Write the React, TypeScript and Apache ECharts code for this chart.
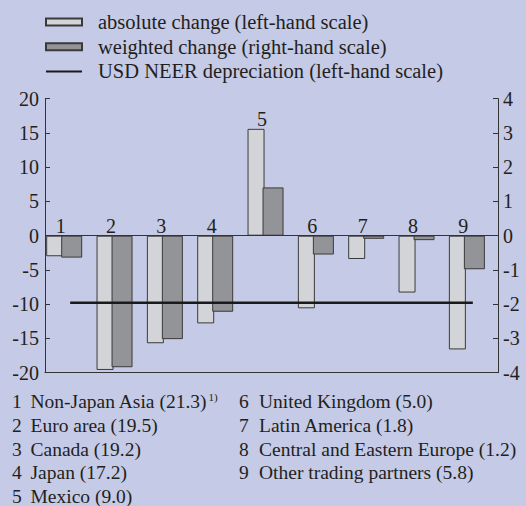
import React, { useEffect, useRef } from "react";
import * as echarts from "echarts";

const categories = ["1", "2", "3", "4", "5", "6", "7", "8", "9"];
const absoluteChange = [-3.0, -19.6, -15.7, -12.8, 15.6, -10.6, -3.4, -8.3, -16.6];
const weightedChange = [-0.64, -3.84, -3.02, -2.22, 1.41, -0.55, -0.09, -0.13, -0.98];
const neerDepreciation = [-9.8, -9.8, -9.8, -9.8, -9.8, -9.8, -9.8, -9.8, -9.8];
const leftAxis = { min: -20, max: 20, interval: 5 };
const rightAxis = { min: -4, max: 4, interval: 1 };
const seriesNames = [
  "absolute change (left-hand scale)",
  "weighted change (right-hand scale)",
  "USD NEER depreciation (left-hand scale)",
];
const partnerNumbers = ["1", "2", "3", "4", "5", "6", "7", "8", "9"];
const partnerNames = [
  "Non-Japan Asia (21.3)",
  "Euro area (19.5)",
  "Canada (19.2)",
  "Japan (17.2)",
  "Mexico (9.0)",
  "United Kingdom (5.0)",
  "Latin America (1.8)",
  "Central and Eastern Europe (1.2)",
  "Other trading partners (5.8)",
];
const partnerNotes = ["1)", "", "", "", "", "", "", "", ""];

const FONT = "Liberation Serif";
const TEXT = "#231f20";
const AXIS = "#333333";

export default function App() {
  const ref = useRef<HTMLDivElement>(null);
  useEffect(() => {
    if (!ref.current) return;
    const chart = echarts.init(ref.current, null, { renderer: "svg" });

    const listGraphics: any[] = [];
    partnerNames.forEach((name, i) => {
      const col = i < 5 ? 0 : 1;
      const row = i < 5 ? i : i - 5;
      const y = 401.7 + row * 23.7;
      const nx = col === 0 ? 12 : 239;
      const tx = col === 0 ? 30.5 : 259;
      listGraphics.push({
        type: "text",
        x: nx,
        y,
        style: {
          text: partnerNumbers[i],
          fontFamily: FONT,
          fontSize: 19.5,
          fill: TEXT,
          verticalAlign: "middle",
          align: "left",
        },
      });
      listGraphics.push({
        type: "text",
        x: tx,
        y,
        style: {
          text: partnerNotes[i]
            ? `{n|${name}}{s|${partnerNotes[i]}}`
            : `{n|${name}}`,
          rich: {
            n: { fontFamily: FONT, fontSize: 19.5, fill: TEXT, color: TEXT },
            s: {
              fontFamily: FONT,
              fontSize: 11,
              fill: TEXT,
              color: TEXT,
              padding: [0, 0, 10, 1],
            },
          },
          verticalAlign: "middle",
          align: "left",
        },
      });
    });

    const barCommon = {
      type: "bar" as const,
      barGap: "-11.76%",
      barCategoryGap: "0%",
    };

    chart.setOption({
      animation: false,
      backgroundColor: "#c5cae6",
      textStyle: { fontFamily: FONT },
      grid: { left: 45, right: 28, top: 98.7, bottom: 133.3, containLabel: false },
      legend: {
        orient: "vertical",
        left: 45,
        top: 11.5,
        padding: 0,
        itemWidth: 36,
        itemHeight: 7,
        itemGap: 3.7,
        data: [
          { name: seriesNames[0], icon: "rect" },
          { name: seriesNames[1], icon: "rect" },
          { name: seriesNames[2] },
        ],
        textStyle: {
          fontFamily: FONT,
          fontSize: 20.5,
          color: TEXT,
          lineHeight: 20,
          padding: [0, 0, 0, 11],
        },
        selectedMode: false,
      },
      xAxis: {
        type: "category",
        data: categories,
        position: "bottom",
        axisLine: { onZero: false, lineStyle: { color: AXIS, width: 1 } },
        axisTick: { inside: true, length: 5, lineStyle: { color: AXIS } },
        axisLabel: { show: false },
        splitLine: { show: false },
      },
      yAxis: [
        {
          type: "value",
          min: leftAxis.min,
          max: leftAxis.max,
          interval: leftAxis.interval,
          axisLine: { show: true, lineStyle: { color: AXIS, width: 1 } },
          axisTick: { show: true, inside: true, length: 5, lineStyle: { color: AXIS } },
          axisLabel: { fontFamily: FONT, fontSize: 20, color: TEXT, margin: 6 },
          splitLine: { show: false },
        },
        {
          type: "value",
          min: rightAxis.min,
          max: rightAxis.max,
          interval: rightAxis.interval,
          position: "right",
          axisLine: { show: true, lineStyle: { color: AXIS, width: 1 } },
          axisTick: { show: true, inside: true, length: 5, lineStyle: { color: AXIS } },
          axisLabel: { fontFamily: FONT, fontSize: 20, color: TEXT, margin: 5 },
          splitLine: { show: false },
        },
      ],
      graphic: listGraphics,
      series: [
        {
          ...barCommon,
          name: seriesNames[0],
          yAxisIndex: 0,
          barWidth: 17,
          data: absoluteChange,
          itemStyle: { color: "#d3d4d7", borderColor: "#3a3a3a", borderWidth: 1 },
          label: {
            show: true,
            position: "top",
            distance: 0,
            offset: [6, 0],
            formatter: "{b}",
            fontFamily: FONT,
            fontSize: 20,
            color: TEXT,
          },
          markLine: {
            silent: true,
            symbol: ["none", "none"],
            label: { show: false },
            lineStyle: { color: AXIS, width: 1, type: "solid" },
            data: [{ yAxis: 0 }],
          },
          z: 2,
        },
        {
          ...barCommon,
          name: seriesNames[1],
          yAxisIndex: 1,
          barWidth: 21,
          data: weightedChange,
          itemStyle: { color: "#939498", borderColor: "#3a3a3a", borderWidth: 1 },
          z: 3,
        },
        {
          ...barCommon,
          name: "spacer",
          yAxisIndex: 0,
          barWidth: 14.4,
          data: [],
        },
        {
          type: "line",
          name: seriesNames[2],
          yAxisIndex: 0,
          data: neerDepreciation,
          symbol: "none",
          showSymbol: false,
          lineStyle: { color: "#1a1a1a", width: 2.5 },
          itemStyle: { color: "#1a1a1a", opacity: 0 },
          z: 5,
        },
      ],
    });
    return () => chart.dispose();
  }, []);
  return (
    <div
      ref={ref}
      style={{ position: "fixed", left: 0, top: 0, width: 526, height: 506 }}
    />
  );
}
